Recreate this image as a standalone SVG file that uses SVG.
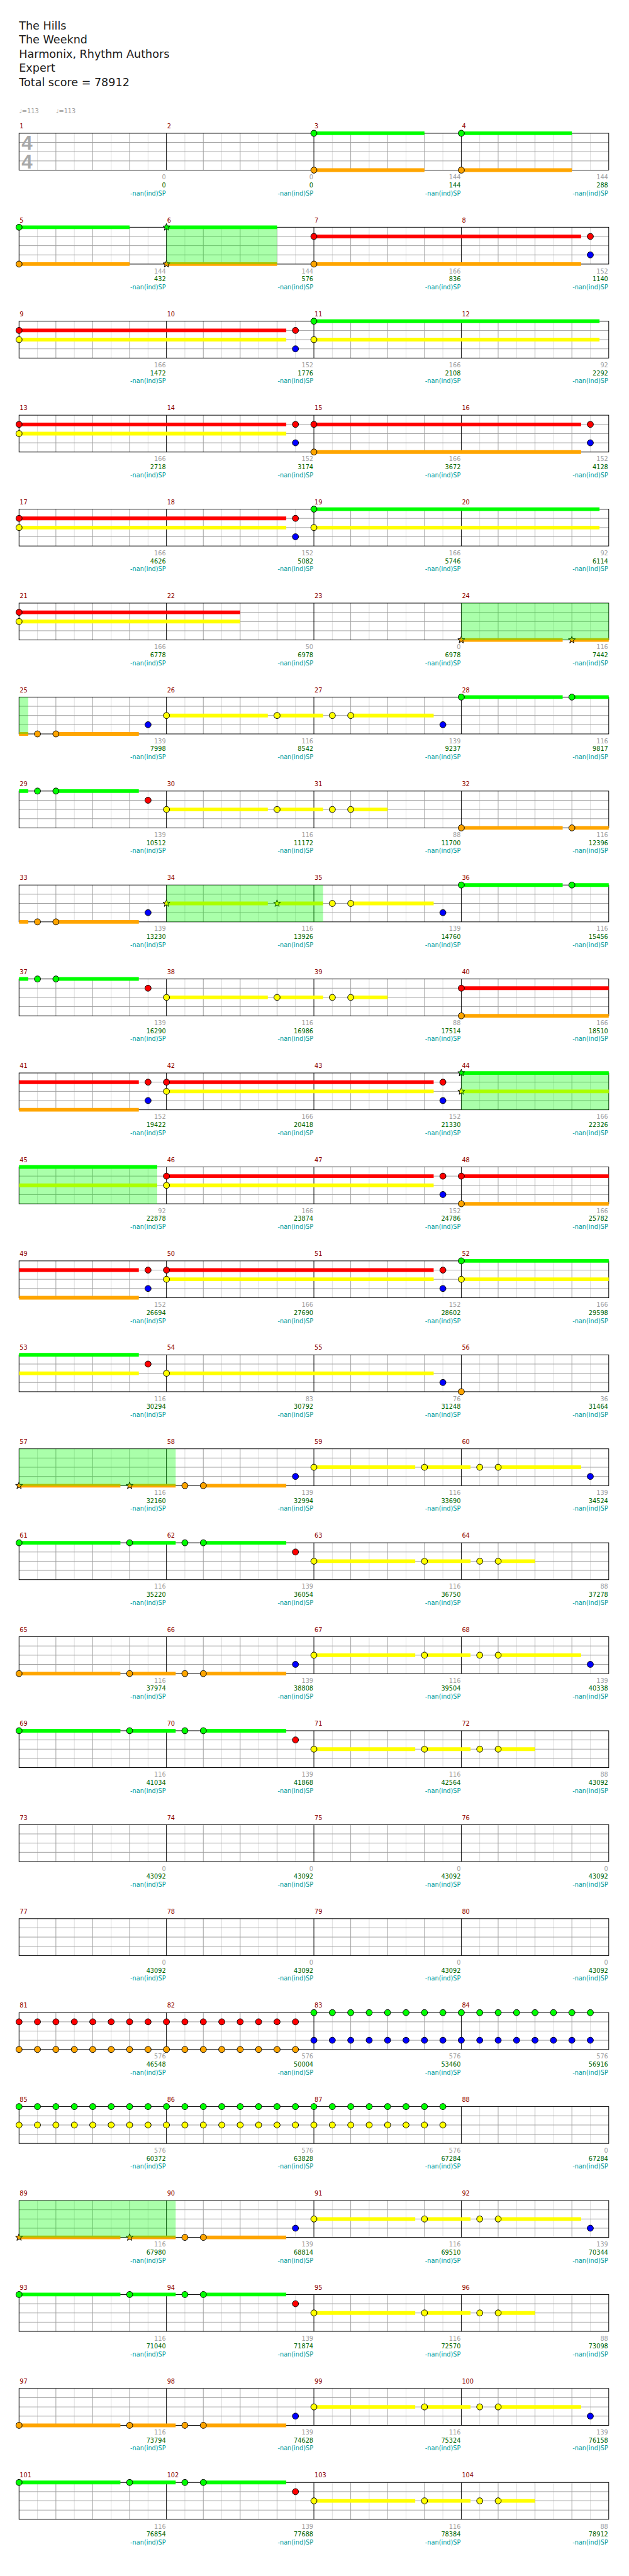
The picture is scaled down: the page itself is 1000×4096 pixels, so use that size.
<svg xmlns="http://www.w3.org/2000/svg" width="1000" height="4096" viewBox="0 0 1000 4096">
<style>
text{font-family:"DejaVu Sans","Liberation Sans",sans-serif;font-size:10px}
.h{font-size:18px;fill:#1a1a1a}
.t{fill:#a0a0a0}
.ts{font-family:"Liberation Sans",sans-serif;font-weight:bold;font-size:32px;fill:#a8a8a8}
.n{fill:#8b0000}
.a{fill:#a0a0a0;text-anchor:end}
.b{fill:#006400;text-anchor:end}
.c{fill:#009b9b;text-anchor:end}
.s{fill:none;stroke-width:6}
.g{stroke:#0f0}.r{stroke:#f00}.y{stroke:#ff0}.o{stroke:#ffa500}
.sp{fill:#0f0;fill-opacity:.333}
</style>
<defs>
<g id="staff" fill="none">
<path stroke="#dcdcdc" d="M61 0V60M121 0V60M181 0V60M241 0V60M301 0V60M361 0V60M421 0V60M481 0V60M541 0V60M601 0V60M661 0V60M721 0V60M781 0V60M841 0V60M901 0V60M961 0V60"/>
<path stroke="#a0a0a0" d="M91 0V60M151 0V60M211 0V60M331 0V60M391 0V60M451 0V60M571 0V60M631 0V60M691 0V60M811 0V60M871 0V60M931 0V60M31 15H991M31 30H991M31 45H991"/>
<path stroke="#000" d="M271 0V60M511 0V60M751 0V60"/>
<rect x="31" y="0" width="960" height="60" stroke="#000"/>
</g>
<circle id="G" r="5" cy="0" fill="#0f0" stroke="#000"/>
<circle id="R" r="5" cy="15" fill="#f00" stroke="#000"/>
<circle id="Y" r="5" cy="30" fill="#ff0" stroke="#000"/>
<circle id="B" r="5" cy="45" fill="#00f" stroke="#000"/>
<circle id="O" r="5" cy="60" fill="#ffa500" stroke="#000"/>
<path id="star" stroke="#000" d="M0-6L1.5-2.1 5.7-1.9 2.4 0.8 3.5 4.9 0 2.5-3.5 4.9-2.4 0.8-5.7-1.9-1.5-2.1Z"/>
<use id="SG" href="#star" fill="#0f0"/>
<use id="SY" href="#star" y="30" fill="#ff0"/>
<use id="SO" href="#star" y="60" fill="#ffa500"/>
<g id="RO"><use href="#R"/><use href="#O"/></g>
<g id="GB"><use href="#G"/><use href="#B"/></g>
<g id="GY"><use href="#G"/><use href="#Y"/></g>
<g id="c3">
<path class="s g" d="M511 0H976"/>
<path class="s r" d="M31 15H466"/>
<path class="s y" d="M31 30H466M511 30H976"/>
<use href="#R" x="31"/><use href="#Y" x="31"/><use href="#R" x="481"/><use href="#B" x="481"/><use href="#G" x="511"/><use href="#Y" x="511"/>
</g>
<g id="cA">
<path class="s y" d="M511 30H676M691 30H766M811 30H946"/>
<path class="s o" d="M31 60H196M211 60H286M331 60H466"/>
<use href="#SO" x="31"/><use href="#SO" x="211"/><use href="#O" x="301"/><use href="#O" x="331"/><use href="#B" x="481"/><use href="#Y" x="511"/><use href="#Y" x="691"/><use href="#Y" x="781"/><use href="#Y" x="811"/><use href="#B" x="961"/>
<rect class="sp" x="31" y="0" width="255" height="60"/>
</g>
<g id="cB">
<path class="s g" d="M31 0H196M211 0H286M331 0H466"/>
<path class="s y" d="M511 30H676M691 30H766M811 30H871"/>
<use href="#G" x="31"/><use href="#G" x="211"/><use href="#G" x="301"/><use href="#G" x="331"/><use href="#R" x="481"/><use href="#Y" x="511"/><use href="#Y" x="691"/><use href="#Y" x="781"/><use href="#Y" x="811"/>
</g>
<g id="cC">
<path class="s y" d="M511 30H676M691 30H766M811 30H946"/>
<path class="s o" d="M31 60H196M211 60H286M331 60H466"/>
<use href="#O" x="31"/><use href="#O" x="211"/><use href="#O" x="301"/><use href="#O" x="331"/><use href="#B" x="481"/><use href="#Y" x="511"/><use href="#Y" x="691"/><use href="#Y" x="781"/><use href="#Y" x="811"/><use href="#B" x="961"/>
</g>
</defs>
<g transform="scale(0.9765625)">
<g id="header">
<text class="h" x="31" y="48">The Hills</text>
<text class="h" x="31" y="71">The Weeknd</text>
<text class="h" x="31" y="94">Harmonix, Rhythm Authors</text>
<text class="h" x="31" y="117">Expert</text>
<text class="h" x="31" y="140">Total score = 78912</text>
<text class="t" x="31" y="184">♩=113</text>
<text class="t" x="91" y="184">♩=113</text>
</g>

<g id="row1" transform="translate(0,217)">
<use href="#staff"/>
<text class="ts" x="35" y="27">4</text><text class="ts" x="35" y="57">4</text>
<path class="s g" d="M511 0H691M751 0H931"/>
<path class="s o" d="M511 60H691M751 60H931"/>
<use href="#G" x="511"/><use href="#O" x="511"/><use href="#G" x="751"/><use href="#O" x="751"/>
<text class="n" x="32" y="-8">1</text><text class="n" x="272" y="-8">2</text><text class="n" x="512" y="-8">3</text><text class="n" x="752" y="-8">4</text>
<text class="a" x="270" y="75">0</text><text class="b" x="270" y="88">0</text><text class="c" x="270" y="101">-nan(ind)SP</text>
<text class="a" x="510" y="75">0</text><text class="b" x="510" y="88">0</text><text class="c" x="510" y="101">-nan(ind)SP</text>
<text class="a" x="750" y="75">144</text><text class="b" x="750" y="88">144</text><text class="c" x="750" y="101">-nan(ind)SP</text>
<text class="a" x="990" y="75">144</text><text class="b" x="990" y="88">288</text><text class="c" x="990" y="101">-nan(ind)SP</text>
</g>

<g id="row2" transform="translate(0,370)">
<use href="#staff"/>
<path class="s g" d="M31 0H211M271 0H451"/>
<path class="s r" d="M511 15H946"/>
<path class="s o" d="M31 60H211M271 60H451M511 60H946"/>
<use href="#G" x="31"/><use href="#O" x="31"/><use href="#SG" x="271"/><use href="#SO" x="271"/><use href="#R" x="511"/><use href="#O" x="511"/><use href="#R" x="961"/><use href="#B" x="961"/>
<rect class="sp" x="271" y="0" width="180" height="60"/>
<text class="n" x="32" y="-8">5</text><text class="n" x="272" y="-8">6</text><text class="n" x="512" y="-8">7</text><text class="n" x="752" y="-8">8</text>
<text class="a" x="270" y="75">144</text><text class="b" x="270" y="88">432</text><text class="c" x="270" y="101">-nan(ind)SP</text>
<text class="a" x="510" y="75">144</text><text class="b" x="510" y="88">576</text><text class="c" x="510" y="101">-nan(ind)SP</text>
<text class="a" x="750" y="75">166</text><text class="b" x="750" y="88">836</text><text class="c" x="750" y="101">-nan(ind)SP</text>
<text class="a" x="990" y="75">152</text><text class="b" x="990" y="88">1140</text><text class="c" x="990" y="101">-nan(ind)SP</text>
</g>

<g id="row3" transform="translate(0,523)">
<use href="#staff"/>
<use href="#c3"/>
<text class="n" x="32" y="-8">9</text><text class="n" x="272" y="-8">10</text><text class="n" x="512" y="-8">11</text><text class="n" x="752" y="-8">12</text>
<text class="a" x="270" y="75">166</text><text class="b" x="270" y="88">1472</text><text class="c" x="270" y="101">-nan(ind)SP</text>
<text class="a" x="510" y="75">152</text><text class="b" x="510" y="88">1776</text><text class="c" x="510" y="101">-nan(ind)SP</text>
<text class="a" x="750" y="75">166</text><text class="b" x="750" y="88">2108</text><text class="c" x="750" y="101">-nan(ind)SP</text>
<text class="a" x="990" y="75">92</text><text class="b" x="990" y="88">2292</text><text class="c" x="990" y="101">-nan(ind)SP</text>
</g>

<g id="row4" transform="translate(0,676)">
<use href="#staff"/>
<path class="s r" d="M31 15H466M511 15H946"/>
<path class="s y" d="M31 30H466"/>
<path class="s o" d="M511 60H946"/>
<use href="#R" x="31"/><use href="#Y" x="31"/><use href="#R" x="481"/><use href="#B" x="481"/><use href="#R" x="511"/><use href="#O" x="511"/><use href="#R" x="961"/><use href="#B" x="961"/>
<text class="n" x="32" y="-8">13</text><text class="n" x="272" y="-8">14</text><text class="n" x="512" y="-8">15</text><text class="n" x="752" y="-8">16</text>
<text class="a" x="270" y="75">166</text><text class="b" x="270" y="88">2718</text><text class="c" x="270" y="101">-nan(ind)SP</text>
<text class="a" x="510" y="75">152</text><text class="b" x="510" y="88">3174</text><text class="c" x="510" y="101">-nan(ind)SP</text>
<text class="a" x="750" y="75">166</text><text class="b" x="750" y="88">3672</text><text class="c" x="750" y="101">-nan(ind)SP</text>
<text class="a" x="990" y="75">152</text><text class="b" x="990" y="88">4128</text><text class="c" x="990" y="101">-nan(ind)SP</text>
</g>

<g id="row5" transform="translate(0,829)">
<use href="#staff"/>
<use href="#c3"/>
<text class="n" x="32" y="-8">17</text><text class="n" x="272" y="-8">18</text><text class="n" x="512" y="-8">19</text><text class="n" x="752" y="-8">20</text>
<text class="a" x="270" y="75">166</text><text class="b" x="270" y="88">4626</text><text class="c" x="270" y="101">-nan(ind)SP</text>
<text class="a" x="510" y="75">152</text><text class="b" x="510" y="88">5082</text><text class="c" x="510" y="101">-nan(ind)SP</text>
<text class="a" x="750" y="75">166</text><text class="b" x="750" y="88">5746</text><text class="c" x="750" y="101">-nan(ind)SP</text>
<text class="a" x="990" y="75">92</text><text class="b" x="990" y="88">6114</text><text class="c" x="990" y="101">-nan(ind)SP</text>
</g>

<g id="row6" transform="translate(0,982)">
<use href="#staff"/>
<path class="s r" d="M31 15H391"/>
<path class="s y" d="M31 30H391"/>
<path class="s o" d="M751 60H916M931 60H991"/>
<use href="#R" x="31"/><use href="#Y" x="31"/><use href="#SO" x="751"/><use href="#SO" x="931"/>
<rect class="sp" x="751" y="0" width="240" height="60"/>
<text class="n" x="32" y="-8">21</text><text class="n" x="272" y="-8">22</text><text class="n" x="512" y="-8">23</text><text class="n" x="752" y="-8">24</text>
<text class="a" x="270" y="75">166</text><text class="b" x="270" y="88">6778</text><text class="c" x="270" y="101">-nan(ind)SP</text>
<text class="a" x="510" y="75">50</text><text class="b" x="510" y="88">6978</text><text class="c" x="510" y="101">-nan(ind)SP</text>
<text class="a" x="750" y="75">0</text><text class="b" x="750" y="88">6978</text><text class="c" x="750" y="101">-nan(ind)SP</text>
<text class="a" x="990" y="75">116</text><text class="b" x="990" y="88">7442</text><text class="c" x="990" y="101">-nan(ind)SP</text>
</g>

<g id="row7" transform="translate(0,1135)">
<use href="#staff"/>
<path class="s g" d="M751 0H916M931 0H991"/>
<path class="s y" d="M271 30H436M451 30H526M571 30H706"/>
<path class="s o" d="M31 60H46M91 60H226"/>
<use href="#O" x="61"/><use href="#O" x="91"/><use href="#B" x="241"/><use href="#Y" x="271"/><use href="#Y" x="451"/><use href="#Y" x="541"/><use href="#Y" x="571"/><use href="#B" x="721"/><use href="#G" x="751"/><use href="#G" x="931"/>
<rect class="sp" x="31" y="0" width="15" height="60"/>
<text class="n" x="32" y="-8">25</text><text class="n" x="272" y="-8">26</text><text class="n" x="512" y="-8">27</text><text class="n" x="752" y="-8">28</text>
<text class="a" x="270" y="75">139</text><text class="b" x="270" y="88">7998</text><text class="c" x="270" y="101">-nan(ind)SP</text>
<text class="a" x="510" y="75">116</text><text class="b" x="510" y="88">8542</text><text class="c" x="510" y="101">-nan(ind)SP</text>
<text class="a" x="750" y="75">139</text><text class="b" x="750" y="88">9237</text><text class="c" x="750" y="101">-nan(ind)SP</text>
<text class="a" x="990" y="75">116</text><text class="b" x="990" y="88">9817</text><text class="c" x="990" y="101">-nan(ind)SP</text>
</g>

<g id="row8" transform="translate(0,1288)">
<use href="#staff"/>
<path class="s g" d="M31 0H46M91 0H226"/>
<path class="s y" d="M271 30H436M451 30H526M571 30H631"/>
<path class="s o" d="M751 60H916M931 60H991"/>
<use href="#G" x="61"/><use href="#G" x="91"/><use href="#R" x="241"/><use href="#Y" x="271"/><use href="#Y" x="451"/><use href="#Y" x="541"/><use href="#Y" x="571"/><use href="#O" x="751"/><use href="#O" x="931"/>
<text class="n" x="32" y="-8">29</text><text class="n" x="272" y="-8">30</text><text class="n" x="512" y="-8">31</text><text class="n" x="752" y="-8">32</text>
<text class="a" x="270" y="75">139</text><text class="b" x="270" y="88">10512</text><text class="c" x="270" y="101">-nan(ind)SP</text>
<text class="a" x="510" y="75">116</text><text class="b" x="510" y="88">11172</text><text class="c" x="510" y="101">-nan(ind)SP</text>
<text class="a" x="750" y="75">88</text><text class="b" x="750" y="88">11700</text><text class="c" x="750" y="101">-nan(ind)SP</text>
<text class="a" x="990" y="75">116</text><text class="b" x="990" y="88">12396</text><text class="c" x="990" y="101">-nan(ind)SP</text>
</g>

<g id="row9" transform="translate(0,1441)">
<use href="#staff"/>
<path class="s g" d="M751 0H916M931 0H991"/>
<path class="s y" d="M271 30H436M451 30H526M571 30H706"/>
<path class="s o" d="M31 60H46M91 60H226"/>
<use href="#O" x="61"/><use href="#O" x="91"/><use href="#B" x="241"/><use href="#SY" x="271"/><use href="#SY" x="451"/><use href="#Y" x="541"/><use href="#Y" x="571"/><use href="#B" x="721"/><use href="#G" x="751"/><use href="#G" x="931"/>
<rect class="sp" x="271" y="0" width="255" height="60"/>
<text class="n" x="32" y="-8">33</text><text class="n" x="272" y="-8">34</text><text class="n" x="512" y="-8">35</text><text class="n" x="752" y="-8">36</text>
<text class="a" x="270" y="75">139</text><text class="b" x="270" y="88">13230</text><text class="c" x="270" y="101">-nan(ind)SP</text>
<text class="a" x="510" y="75">116</text><text class="b" x="510" y="88">13926</text><text class="c" x="510" y="101">-nan(ind)SP</text>
<text class="a" x="750" y="75">139</text><text class="b" x="750" y="88">14760</text><text class="c" x="750" y="101">-nan(ind)SP</text>
<text class="a" x="990" y="75">116</text><text class="b" x="990" y="88">15456</text><text class="c" x="990" y="101">-nan(ind)SP</text>
</g>

<g id="row10" transform="translate(0,1594)">
<use href="#staff"/>
<path class="s g" d="M31 0H46M91 0H226"/>
<path class="s r" d="M751 15H991"/>
<path class="s y" d="M271 30H436M451 30H526M571 30H631"/>
<path class="s o" d="M751 60H991"/>
<use href="#G" x="61"/><use href="#G" x="91"/><use href="#R" x="241"/><use href="#Y" x="271"/><use href="#Y" x="451"/><use href="#Y" x="541"/><use href="#Y" x="571"/><use href="#R" x="751"/><use href="#O" x="751"/>
<text class="n" x="32" y="-8">37</text><text class="n" x="272" y="-8">38</text><text class="n" x="512" y="-8">39</text><text class="n" x="752" y="-8">40</text>
<text class="a" x="270" y="75">139</text><text class="b" x="270" y="88">16290</text><text class="c" x="270" y="101">-nan(ind)SP</text>
<text class="a" x="510" y="75">116</text><text class="b" x="510" y="88">16986</text><text class="c" x="510" y="101">-nan(ind)SP</text>
<text class="a" x="750" y="75">88</text><text class="b" x="750" y="88">17514</text><text class="c" x="750" y="101">-nan(ind)SP</text>
<text class="a" x="990" y="75">166</text><text class="b" x="990" y="88">18510</text><text class="c" x="990" y="101">-nan(ind)SP</text>
</g>

<g id="row11" transform="translate(0,1747)">
<use href="#staff"/>
<path class="s g" d="M751 0H991"/>
<path class="s r" d="M31 15H226M271 15H706"/>
<path class="s y" d="M271 30H706M751 30H991"/>
<path class="s o" d="M31 60H226"/>
<use href="#R" x="241"/><use href="#B" x="241"/><use href="#R" x="271"/><use href="#Y" x="271"/><use href="#R" x="721"/><use href="#B" x="721"/><use href="#SG" x="751"/><use href="#SY" x="751"/>
<rect class="sp" x="751" y="0" width="240" height="60"/>
<text class="n" x="32" y="-8">41</text><text class="n" x="272" y="-8">42</text><text class="n" x="512" y="-8">43</text><text class="n" x="752" y="-8">44</text>
<text class="a" x="270" y="75">152</text><text class="b" x="270" y="88">19422</text><text class="c" x="270" y="101">-nan(ind)SP</text>
<text class="a" x="510" y="75">166</text><text class="b" x="510" y="88">20418</text><text class="c" x="510" y="101">-nan(ind)SP</text>
<text class="a" x="750" y="75">152</text><text class="b" x="750" y="88">21330</text><text class="c" x="750" y="101">-nan(ind)SP</text>
<text class="a" x="990" y="75">166</text><text class="b" x="990" y="88">22326</text><text class="c" x="990" y="101">-nan(ind)SP</text>
</g>

<g id="row12" transform="translate(0,1900)">
<use href="#staff"/>
<path class="s g" d="M31 0H256"/>
<path class="s r" d="M271 15H706M751 15H991"/>
<path class="s y" d="M31 30H256M271 30H706"/>
<path class="s o" d="M751 60H991"/>
<use href="#R" x="271"/><use href="#Y" x="271"/><use href="#R" x="721"/><use href="#B" x="721"/><use href="#R" x="751"/><use href="#O" x="751"/>
<rect class="sp" x="31" y="0" width="225" height="60"/>
<text class="n" x="32" y="-8">45</text><text class="n" x="272" y="-8">46</text><text class="n" x="512" y="-8">47</text><text class="n" x="752" y="-8">48</text>
<text class="a" x="270" y="75">92</text><text class="b" x="270" y="88">22878</text><text class="c" x="270" y="101">-nan(ind)SP</text>
<text class="a" x="510" y="75">166</text><text class="b" x="510" y="88">23874</text><text class="c" x="510" y="101">-nan(ind)SP</text>
<text class="a" x="750" y="75">152</text><text class="b" x="750" y="88">24786</text><text class="c" x="750" y="101">-nan(ind)SP</text>
<text class="a" x="990" y="75">166</text><text class="b" x="990" y="88">25782</text><text class="c" x="990" y="101">-nan(ind)SP</text>
</g>

<g id="row13" transform="translate(0,2053)">
<use href="#staff"/>
<path class="s g" d="M751 0H991"/>
<path class="s r" d="M31 15H226M271 15H706"/>
<path class="s y" d="M271 30H706M751 30H991"/>
<path class="s o" d="M31 60H226"/>
<use href="#R" x="241"/><use href="#B" x="241"/><use href="#R" x="271"/><use href="#Y" x="271"/><use href="#R" x="721"/><use href="#B" x="721"/><use href="#G" x="751"/><use href="#Y" x="751"/>
<text class="n" x="32" y="-8">49</text><text class="n" x="272" y="-8">50</text><text class="n" x="512" y="-8">51</text><text class="n" x="752" y="-8">52</text>
<text class="a" x="270" y="75">152</text><text class="b" x="270" y="88">26694</text><text class="c" x="270" y="101">-nan(ind)SP</text>
<text class="a" x="510" y="75">166</text><text class="b" x="510" y="88">27690</text><text class="c" x="510" y="101">-nan(ind)SP</text>
<text class="a" x="750" y="75">152</text><text class="b" x="750" y="88">28602</text><text class="c" x="750" y="101">-nan(ind)SP</text>
<text class="a" x="990" y="75">166</text><text class="b" x="990" y="88">29598</text><text class="c" x="990" y="101">-nan(ind)SP</text>
</g>

<g id="row14" transform="translate(0,2206)">
<use href="#staff"/>
<path class="s g" d="M31 0H226"/>
<path class="s y" d="M31 30H226M271 30H706"/>
<use href="#R" x="241"/><use href="#Y" x="271"/><use href="#B" x="721"/><use href="#O" x="751"/>
<text class="n" x="32" y="-8">53</text><text class="n" x="272" y="-8">54</text><text class="n" x="512" y="-8">55</text><text class="n" x="752" y="-8">56</text>
<text class="a" x="270" y="75">116</text><text class="b" x="270" y="88">30294</text><text class="c" x="270" y="101">-nan(ind)SP</text>
<text class="a" x="510" y="75">83</text><text class="b" x="510" y="88">30792</text><text class="c" x="510" y="101">-nan(ind)SP</text>
<text class="a" x="750" y="75">76</text><text class="b" x="750" y="88">31248</text><text class="c" x="750" y="101">-nan(ind)SP</text>
<text class="a" x="990" y="75">36</text><text class="b" x="990" y="88">31464</text><text class="c" x="990" y="101">-nan(ind)SP</text>
</g>

<g id="row15" transform="translate(0,2359)">
<use href="#staff"/>
<use href="#cA"/>
<text class="n" x="32" y="-8">57</text><text class="n" x="272" y="-8">58</text><text class="n" x="512" y="-8">59</text><text class="n" x="752" y="-8">60</text>
<text class="a" x="270" y="75">116</text><text class="b" x="270" y="88">32160</text><text class="c" x="270" y="101">-nan(ind)SP</text>
<text class="a" x="510" y="75">139</text><text class="b" x="510" y="88">32994</text><text class="c" x="510" y="101">-nan(ind)SP</text>
<text class="a" x="750" y="75">116</text><text class="b" x="750" y="88">33690</text><text class="c" x="750" y="101">-nan(ind)SP</text>
<text class="a" x="990" y="75">139</text><text class="b" x="990" y="88">34524</text><text class="c" x="990" y="101">-nan(ind)SP</text>
</g>

<g id="row16" transform="translate(0,2512)">
<use href="#staff"/>
<use href="#cB"/>
<text class="n" x="32" y="-8">61</text><text class="n" x="272" y="-8">62</text><text class="n" x="512" y="-8">63</text><text class="n" x="752" y="-8">64</text>
<text class="a" x="270" y="75">116</text><text class="b" x="270" y="88">35220</text><text class="c" x="270" y="101">-nan(ind)SP</text>
<text class="a" x="510" y="75">139</text><text class="b" x="510" y="88">36054</text><text class="c" x="510" y="101">-nan(ind)SP</text>
<text class="a" x="750" y="75">116</text><text class="b" x="750" y="88">36750</text><text class="c" x="750" y="101">-nan(ind)SP</text>
<text class="a" x="990" y="75">88</text><text class="b" x="990" y="88">37278</text><text class="c" x="990" y="101">-nan(ind)SP</text>
</g>

<g id="row17" transform="translate(0,2665)">
<use href="#staff"/>
<use href="#cC"/>
<text class="n" x="32" y="-8">65</text><text class="n" x="272" y="-8">66</text><text class="n" x="512" y="-8">67</text><text class="n" x="752" y="-8">68</text>
<text class="a" x="270" y="75">116</text><text class="b" x="270" y="88">37974</text><text class="c" x="270" y="101">-nan(ind)SP</text>
<text class="a" x="510" y="75">139</text><text class="b" x="510" y="88">38808</text><text class="c" x="510" y="101">-nan(ind)SP</text>
<text class="a" x="750" y="75">116</text><text class="b" x="750" y="88">39504</text><text class="c" x="750" y="101">-nan(ind)SP</text>
<text class="a" x="990" y="75">139</text><text class="b" x="990" y="88">40338</text><text class="c" x="990" y="101">-nan(ind)SP</text>
</g>

<g id="row18" transform="translate(0,2818)">
<use href="#staff"/>
<use href="#cB"/>
<text class="n" x="32" y="-8">69</text><text class="n" x="272" y="-8">70</text><text class="n" x="512" y="-8">71</text><text class="n" x="752" y="-8">72</text>
<text class="a" x="270" y="75">116</text><text class="b" x="270" y="88">41034</text><text class="c" x="270" y="101">-nan(ind)SP</text>
<text class="a" x="510" y="75">139</text><text class="b" x="510" y="88">41868</text><text class="c" x="510" y="101">-nan(ind)SP</text>
<text class="a" x="750" y="75">116</text><text class="b" x="750" y="88">42564</text><text class="c" x="750" y="101">-nan(ind)SP</text>
<text class="a" x="990" y="75">88</text><text class="b" x="990" y="88">43092</text><text class="c" x="990" y="101">-nan(ind)SP</text>
</g>

<g id="row19" transform="translate(0,2971)">
<use href="#staff"/>
<text class="n" x="32" y="-8">73</text><text class="n" x="272" y="-8">74</text><text class="n" x="512" y="-8">75</text><text class="n" x="752" y="-8">76</text>
<text class="a" x="270" y="75">0</text><text class="b" x="270" y="88">43092</text><text class="c" x="270" y="101">-nan(ind)SP</text>
<text class="a" x="510" y="75">0</text><text class="b" x="510" y="88">43092</text><text class="c" x="510" y="101">-nan(ind)SP</text>
<text class="a" x="750" y="75">0</text><text class="b" x="750" y="88">43092</text><text class="c" x="750" y="101">-nan(ind)SP</text>
<text class="a" x="990" y="75">0</text><text class="b" x="990" y="88">43092</text><text class="c" x="990" y="101">-nan(ind)SP</text>
</g>

<g id="row20" transform="translate(0,3124)">
<use href="#staff"/>
<text class="n" x="32" y="-8">77</text><text class="n" x="272" y="-8">78</text><text class="n" x="512" y="-8">79</text><text class="n" x="752" y="-8">80</text>
<text class="a" x="270" y="75">0</text><text class="b" x="270" y="88">43092</text><text class="c" x="270" y="101">-nan(ind)SP</text>
<text class="a" x="510" y="75">0</text><text class="b" x="510" y="88">43092</text><text class="c" x="510" y="101">-nan(ind)SP</text>
<text class="a" x="750" y="75">0</text><text class="b" x="750" y="88">43092</text><text class="c" x="750" y="101">-nan(ind)SP</text>
<text class="a" x="990" y="75">0</text><text class="b" x="990" y="88">43092</text><text class="c" x="990" y="101">-nan(ind)SP</text>
</g>

<g id="row21" transform="translate(0,3277)">
<use href="#staff"/>
<use href="#RO" x="31"/><use href="#RO" x="61"/><use href="#RO" x="91"/><use href="#RO" x="121"/><use href="#RO" x="151"/><use href="#RO" x="181"/><use href="#RO" x="211"/><use href="#RO" x="241"/><use href="#RO" x="271"/><use href="#RO" x="301"/><use href="#RO" x="331"/><use href="#RO" x="361"/><use href="#RO" x="391"/><use href="#RO" x="421"/><use href="#RO" x="451"/><use href="#RO" x="481"/>
<use href="#GB" x="511"/><use href="#GB" x="541"/><use href="#GB" x="571"/><use href="#GB" x="601"/><use href="#GB" x="631"/><use href="#GB" x="661"/><use href="#GB" x="691"/><use href="#GB" x="721"/><use href="#GB" x="751"/><use href="#GB" x="781"/><use href="#GB" x="811"/><use href="#GB" x="841"/><use href="#GB" x="871"/><use href="#GB" x="901"/><use href="#GB" x="931"/><use href="#GB" x="961"/>
<text class="n" x="32" y="-8">81</text><text class="n" x="272" y="-8">82</text><text class="n" x="512" y="-8">83</text><text class="n" x="752" y="-8">84</text>
<text class="a" x="270" y="75">576</text><text class="b" x="270" y="88">46548</text><text class="c" x="270" y="101">-nan(ind)SP</text>
<text class="a" x="510" y="75">576</text><text class="b" x="510" y="88">50004</text><text class="c" x="510" y="101">-nan(ind)SP</text>
<text class="a" x="750" y="75">576</text><text class="b" x="750" y="88">53460</text><text class="c" x="750" y="101">-nan(ind)SP</text>
<text class="a" x="990" y="75">576</text><text class="b" x="990" y="88">56916</text><text class="c" x="990" y="101">-nan(ind)SP</text>
</g>

<g id="row22" transform="translate(0,3430)">
<use href="#staff"/>
<use href="#GY" x="31"/><use href="#GY" x="61"/><use href="#GY" x="91"/><use href="#GY" x="121"/><use href="#GY" x="151"/><use href="#GY" x="181"/><use href="#GY" x="211"/><use href="#GY" x="241"/><use href="#GY" x="271"/><use href="#GY" x="301"/><use href="#GY" x="331"/><use href="#GY" x="361"/><use href="#GY" x="391"/><use href="#GY" x="421"/><use href="#GY" x="451"/><use href="#GY" x="481"/><use href="#GY" x="511"/><use href="#GY" x="541"/><use href="#GY" x="571"/><use href="#GY" x="601"/><use href="#GY" x="631"/><use href="#GY" x="661"/><use href="#GY" x="691"/><use href="#GY" x="721"/>
<text class="n" x="32" y="-8">85</text><text class="n" x="272" y="-8">86</text><text class="n" x="512" y="-8">87</text><text class="n" x="752" y="-8">88</text>
<text class="a" x="270" y="75">576</text><text class="b" x="270" y="88">60372</text><text class="c" x="270" y="101">-nan(ind)SP</text>
<text class="a" x="510" y="75">576</text><text class="b" x="510" y="88">63828</text><text class="c" x="510" y="101">-nan(ind)SP</text>
<text class="a" x="750" y="75">576</text><text class="b" x="750" y="88">67284</text><text class="c" x="750" y="101">-nan(ind)SP</text>
<text class="a" x="990" y="75">0</text><text class="b" x="990" y="88">67284</text><text class="c" x="990" y="101">-nan(ind)SP</text>
</g>

<g id="row23" transform="translate(0,3583)">
<use href="#staff"/>
<use href="#cA"/>
<text class="n" x="32" y="-8">89</text><text class="n" x="272" y="-8">90</text><text class="n" x="512" y="-8">91</text><text class="n" x="752" y="-8">92</text>
<text class="a" x="270" y="75">116</text><text class="b" x="270" y="88">67980</text><text class="c" x="270" y="101">-nan(ind)SP</text>
<text class="a" x="510" y="75">139</text><text class="b" x="510" y="88">68814</text><text class="c" x="510" y="101">-nan(ind)SP</text>
<text class="a" x="750" y="75">116</text><text class="b" x="750" y="88">69510</text><text class="c" x="750" y="101">-nan(ind)SP</text>
<text class="a" x="990" y="75">139</text><text class="b" x="990" y="88">70344</text><text class="c" x="990" y="101">-nan(ind)SP</text>
</g>

<g id="row24" transform="translate(0,3736)">
<use href="#staff"/>
<use href="#cB"/>
<text class="n" x="32" y="-8">93</text><text class="n" x="272" y="-8">94</text><text class="n" x="512" y="-8">95</text><text class="n" x="752" y="-8">96</text>
<text class="a" x="270" y="75">116</text><text class="b" x="270" y="88">71040</text><text class="c" x="270" y="101">-nan(ind)SP</text>
<text class="a" x="510" y="75">139</text><text class="b" x="510" y="88">71874</text><text class="c" x="510" y="101">-nan(ind)SP</text>
<text class="a" x="750" y="75">116</text><text class="b" x="750" y="88">72570</text><text class="c" x="750" y="101">-nan(ind)SP</text>
<text class="a" x="990" y="75">88</text><text class="b" x="990" y="88">73098</text><text class="c" x="990" y="101">-nan(ind)SP</text>
</g>

<g id="row25" transform="translate(0,3889)">
<use href="#staff"/>
<use href="#cC"/>
<text class="n" x="32" y="-8">97</text><text class="n" x="272" y="-8">98</text><text class="n" x="512" y="-8">99</text><text class="n" x="752" y="-8">100</text>
<text class="a" x="270" y="75">116</text><text class="b" x="270" y="88">73794</text><text class="c" x="270" y="101">-nan(ind)SP</text>
<text class="a" x="510" y="75">139</text><text class="b" x="510" y="88">74628</text><text class="c" x="510" y="101">-nan(ind)SP</text>
<text class="a" x="750" y="75">116</text><text class="b" x="750" y="88">75324</text><text class="c" x="750" y="101">-nan(ind)SP</text>
<text class="a" x="990" y="75">139</text><text class="b" x="990" y="88">76158</text><text class="c" x="990" y="101">-nan(ind)SP</text>
</g>

<g id="row26" transform="translate(0,4042)">
<use href="#staff"/>
<use href="#cB"/>
<text class="n" x="32" y="-8">101</text><text class="n" x="272" y="-8">102</text><text class="n" x="512" y="-8">103</text><text class="n" x="752" y="-8">104</text>
<text class="a" x="270" y="75">116</text><text class="b" x="270" y="88">76854</text><text class="c" x="270" y="101">-nan(ind)SP</text>
<text class="a" x="510" y="75">139</text><text class="b" x="510" y="88">77688</text><text class="c" x="510" y="101">-nan(ind)SP</text>
<text class="a" x="750" y="75">116</text><text class="b" x="750" y="88">78384</text><text class="c" x="750" y="101">-nan(ind)SP</text>
<text class="a" x="990" y="75">88</text><text class="b" x="990" y="88">78912</text><text class="c" x="990" y="101">-nan(ind)SP</text>
</g>
</g>
</svg>
